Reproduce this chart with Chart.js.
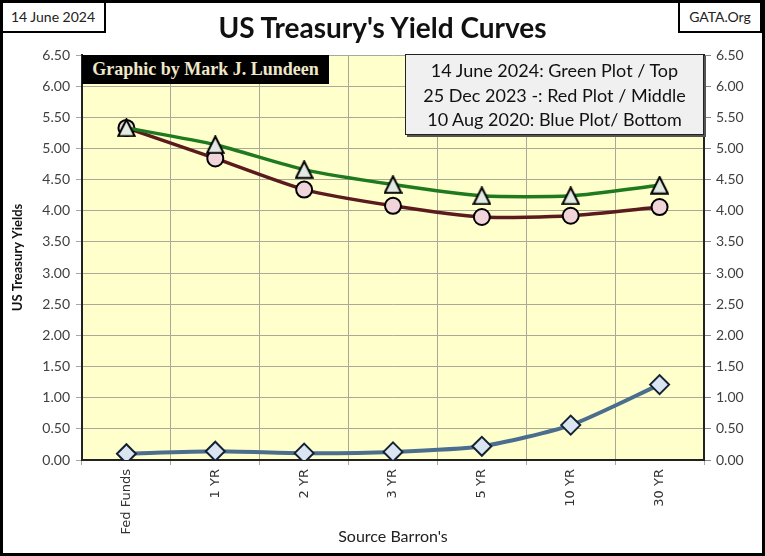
<!DOCTYPE html>
<html><head><meta charset="utf-8">
<script src="https://cdn.jsdelivr.net/npm/chart.js@4.4.1/dist/chart.umd.min.js"></script>
<style>
html,body{margin:0;padding:0;background:#fff;}
#wrap{position:relative;width:765px;height:556px;overflow:hidden;font-family:Lato,sans-serif;background:#fff;}
#c{position:absolute;left:0;top:0;}
.frame{position:absolute;left:0;top:0;width:765px;height:556px;box-sizing:border-box;border:3px solid #000;pointer-events:none;}
.date{position:absolute;left:0;top:0;width:106px;height:33px;box-sizing:border-box;border:2px solid #000;background:#fff;font-size:14px;color:#222;text-align:center;line-height:29px;}
.gata{position:absolute;left:678px;top:0;width:84px;height:33px;box-sizing:border-box;border:2px solid #000;background:#fff;font-size:14px;color:#222;text-align:center;line-height:29px;}
.title{position:absolute;left:0;top:10px;width:765px;text-align:center;font-weight:bold;font-size:28px;color:#111;line-height:34px;}
.by{position:absolute;left:82px;top:55px;width:247px;height:29px;background:#000;color:#efe7c8;font-family:"Liberation Serif",serif;font-weight:bold;font-size:18px;line-height:29px;text-align:center;}
.leg{position:absolute;left:405px;top:54px;width:299px;height:81px;box-sizing:border-box;border:1.5px solid #222;background:#f0f0f0;box-shadow:2px 2px 0 #555;font-size:18px;color:#111;text-align:center;line-height:24.5px;padding-top:3px;}
</style></head>
<body>
<div id="wrap">
<canvas id="c" width="765" height="556"></canvas>
<div class="title">US Treasury's Yield Curves</div>
<div class="date">14 June 2024</div>
<div class="gata">GATA.Org</div>
<div class="by">Graphic by Mark J. Lundeen</div>
<div class="leg">14 June 2024: Green Plot / Top<br>25 Dec 2023 -: Red Plot / Middle<br>10 Aug 2020: Blue Plot/ Bottom</div>
<div class="frame"></div>
</div>
<script>
const categories = ['Fed Funds', '1 YR', '2 YR', '3 YR', '5 YR', '10 YR', '30 YR'];
const june2024 = [5.33, 5.06, 4.66, 4.42, 4.24, 4.24, 4.41];
const dec2023  = [5.33, 4.84, 4.34, 4.08, 3.90, 3.92, 4.06];
const aug2020  = [0.10, 0.14, 0.11, 0.13, 0.22, 0.56, 1.21];
const yTickValues = [0, 0.5, 1, 1.5, 2, 2.5, 3, 3.5, 4, 4.5, 5, 5.5, 6, 6.5];

function triMarker(){
  const cv = document.createElement('canvas');
  cv.width = 19; cv.height = 19;
  const g = cv.getContext('2d');
  g.beginPath();
  g.moveTo(9.5, 1.2); g.lineTo(17.8, 17.8); g.lineTo(1.2, 17.8); g.closePath();
  g.fillStyle = '#e3eae3'; g.fill();
  g.lineWidth = 2; g.strokeStyle = '#000'; g.lineJoin = 'miter'; g.stroke();
  return cv;
}

const bgPlugin = {
  id: 'bg',
  beforeDraw(chart){
    const {ctx, chartArea:a} = chart;
    ctx.save(); ctx.fillStyle = '#ffffcc';
    ctx.fillRect(a.left, a.top, a.right - a.left, a.bottom - a.top);
    ctx.restore();
  }
};

const tickFont = {family: 'Lato', size: 14};
const setTicks = s => { s.ticks = yTickValues.map(v => ({value: v})); };

new Chart(document.getElementById('c'), {
  type: 'line',
  data: {
    labels: categories,
    datasets: [
      {label: '14 June 2024', data: june2024, order: 0, borderColor: '#1f7a1f', borderWidth: 3.5,
       pointStyle: triMarker(), pointRadius: 9, tension: 0.22},
      {label: '25 Dec 2023', data: dec2023, order: 1, borderColor: '#5b1a1e', borderWidth: 3.5,
       pointStyle: 'circle', pointRadius: 8, pointBackgroundColor: '#f1d3da', pointBorderColor: '#000', pointBorderWidth: 2, tension: 0.22},
      {label: '10 Aug 2020', data: aug2020, order: 2, borderColor: '#4b6e8e', borderWidth: 4,
       pointStyle: 'rectRot', pointRadius: 9.5, pointBackgroundColor: '#dbe5f2', pointBorderColor: '#142233', pointBorderWidth: 2, tension: 0.22}
    ]
  },
  options: {
    responsive: false, animation: false, events: [],
    layout: {padding: {top: 55, left: 4, right: 0, bottom: 4}},
    plugins: {legend: {display: false}, tooltip: {enabled: false}, title: {display: false}},
    scales: {
      x: {
        offset: true,
        grid: {offset: true, color: '#aaa896', lineWidth: 1, drawTicks: true, tickLength: 5},
        border: {display: true, color: '#222', width: 2},
        ticks: {minRotation: 90, maxRotation: 90, padding: 4, color: '#333', font: {family: 'DejaVu Sans', size: 13}},
        title: {display: true, text: "Source Barron's", color: '#222', font: {family: 'Lato', size: 16}, padding: {top: 2, bottom: 6}},
        afterFit(s){ s.height = 92; }
      },
      y: {
        position: 'left', min: 0, max: 6.5,
        afterBuildTicks: setTicks,
        grid: {color: '#aaa896', lineWidth: 1, tickLength: 6, drawTicks: true},
        border: {display: true, color: '#222', width: 2},
        ticks: {padding: 6, color: '#404040', font: tickFont, callback: v => Number(v).toFixed(2)},
        title: {display: true, text: 'US Treasury Yields', color: '#111', font: {family: 'Lato', size: 13, weight: 'bold'}, padding: {top: 6, bottom: 4}},
        afterFit(s){ s.width = 78; }
      },
      y2: {
        position: 'right', min: 0, max: 6.5, display: true,
        afterBuildTicks: setTicks,
        grid: {drawOnChartArea: false, drawTicks: true, tickLength: 7, color: '#888'},
        border: {display: true, color: '#222', width: 2},
        ticks: {padding: 5, color: '#404040', font: tickFont, callback: v => Number(v).toFixed(2)},
        afterFit(s){ s.width = 61; }
      }
    }
  },
  plugins: [bgPlugin]
});
</script>
</body></html>
